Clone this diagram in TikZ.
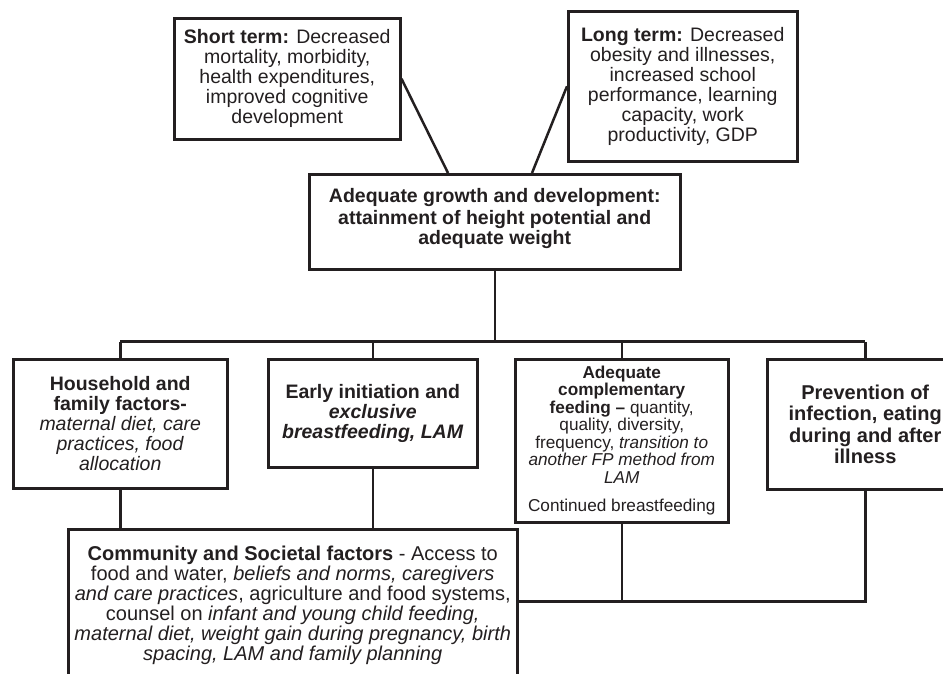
\documentclass[tikz,border=0pt]{standalone}
\usepackage{fontspec}
\setmainfont{Liberation Sans}
\usetikzlibrary{calc}
\definecolor{ink}{HTML}{231F20}

\begin{document}
\begin{tikzpicture}[x=1pt,y=-1pt, line width=2.5pt, draw=ink, text=ink,
    box/.style={draw=ink, rectangle, anchor=north west, align=center, inner sep=2pt,
      font=\fontsize{19.5}{20}\selectfont},
    small/.style={font=\fontsize{17.2}{17.5}\selectfont},
    big/.style={font=\fontsize{20}{21.5}\selectfont\bfseries}]
      \useasboundingbox (0,0) rectangle (943,673);
      \clip (0,0) rectangle (943,673);

      \node[box, minimum width=226, minimum height=121] (short) at (173,17)
        {\textbf{Short term:} Decreased\\mortality, morbidity,\\health expenditures,\\improved cognitive\\development};
      \node[box, minimum width=229, minimum height=150] (long) at (567,10)
        {\textbf{Long term:} Decreased\\obesity and illnesses,\\increased school\\performance, learning\\capacity, work\\productivity, GDP};
      \node[box, minimum width=371, minimum height=95, font=\fontsize{19.5}{19.5}\selectfont\bfseries] (growth) at (308,173)
        {Adequate growth and development:\\[3pt]attainment of height potential and\\adequate weight\\[-8pt]};

      \node[box, minimum width=214, minimum height=129] (house) at (12,358)
        {\textbf{Household and}\\\textbf{family factors-}\\\textit{maternal diet, care}\\\textit{practices, food}\\\textit{allocation}};
      \node[box, minimum width=209, minimum height=108] (early) at (267,358)
        {\textbf{Early initiation and}\\\textbf{\textit{exclusive}}\\\textbf{\textit{breastfeeding, LAM}}};
      \node[box, small, minimum width=213, minimum height=163] (compl) at (514,358)
        {\textbf{Adequate}\\\textbf{complementary}\\\textbf{feeding --} quantity,\\quality, diversity,\\frequency, \textit{transition to}\\\textit{another FP method from}\\\textit{LAM}\\[11pt]Continued breastfeeding};
      \node[box, big, minimum width=196, minimum height=130] (prev) at (766,358)
        {Prevention of\\infection, eating\\during and after\\illness};

      \node[box, minimum width=449, minimum height=152, font=\fontsize{20}{20}\selectfont] (comm) at (67,528)
        {\textbf{Community and Societal factors} - Access to\\food and water, \textit{beliefs and norms, caregivers}\\\textit{and care practices}, agriculture and food systems,\\counsel on \textit{infant and young child feeding,}\\\textit{maternal diet, weight gain during pregnancy, birth}\\\textit{spacing, LAM and family planning}};

      \draw (short.east) -- ($(growth.north west)+(140,0)$);
      \draw (long.west) -- ($(growth.north west)+(224,0)$);

      \coordinate (bus) at ($(growth.south)+(0,71)$);
      \draw (growth.south) -- (bus);
      \draw (house.north |- bus) -- (prev.north |- bus);
      \foreach \n in {house,early,compl,prev} \draw (\n.north) -- (\n.north |- bus);

      \draw (house.south) -- (house.south |- comm.north);
      \draw (early.south) -- (early.south |- comm.north);

      \coordinate (join) at ($(compl.south)+(0,78)$);
      \draw (compl.south) -- (join);
      \draw (prev.south) |- (comm.east |- join);
    \end{tikzpicture}
\end{document}
